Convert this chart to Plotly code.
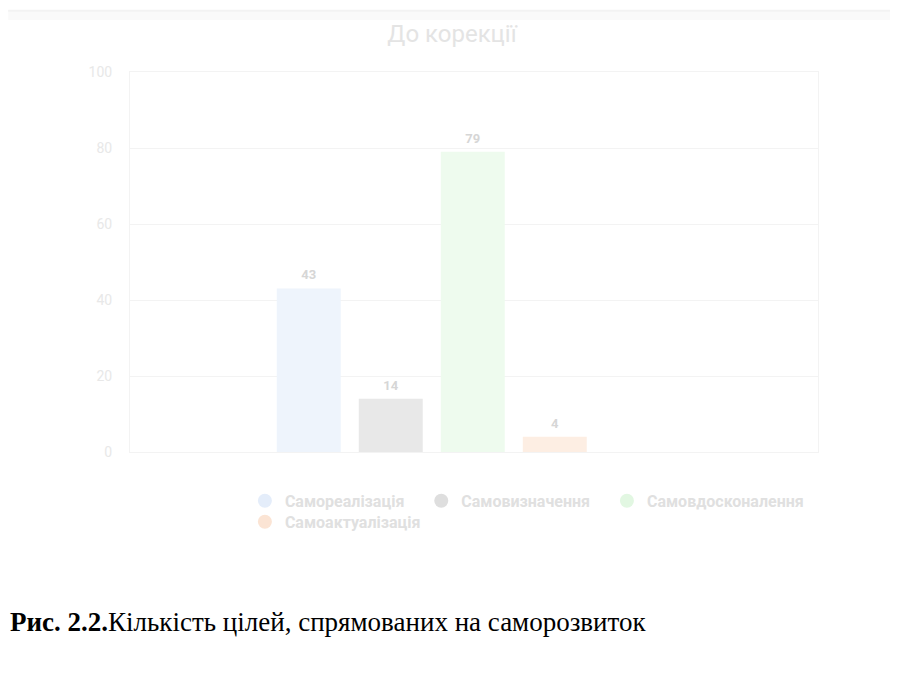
import plotly.graph_objects as go

categories = ["Самореалізація", "Самовизначення", "Самовдосконалення", "Самоактуалізація"]
values = [43, 14, 79, 4]
bar_colors = ["#eef4fc", "#e8e8e8", "#eefbee", "#fdeee3"]
legend_colors = ["#e4edfa", "#dedede", "#e2f7e2", "#fbe4d4"]
legend_rows = ["legend", "legend", "legend", "legend2"]
y_ticks = [0, 20, 40, 60, 80, 100]
title_text = "До корекції"
caption_bold = "Рис. 2.2."
caption_text = "Кількість цілей, спрямованих на саморозвиток"

fig = go.Figure()
for cat, val, col in zip(categories, values, bar_colors):
    fig.add_trace(go.Bar(
        x=[cat], y=[val], marker=dict(color=col, line=dict(width=0)),
        width=0.78, showlegend=False, hoverinfo="skip",
    ))
# value labels above the bars
fig.add_trace(go.Scatter(
    x=categories, y=values, mode="markers+text",
    marker=dict(size=8, opacity=0),
    text=[str(v) for v in values], textposition="top center",
    textfont=dict(family="Roboto", size=13, color="#d6d6d6", weight="bold"),
    cliponaxis=False, showlegend=False, hoverinfo="skip",
))
for cat, col, lg in zip(categories, legend_colors, legend_rows):
    fig.add_trace(go.Scatter(
        x=[None], y=[None], mode="markers", name=cat + "\u00a0\u00a0\u00a0",
        marker=dict(symbol="circle", size=14, color=col),
        showlegend=True, legend=lg,
    ))

legend_font = dict(family="Roboto", size=16, color="#e0e0e0", weight="bold")
fig.update_layout(
    width=890, height=667,
    paper_bgcolor="white", plot_bgcolor="white",
    margin=dict(l=122, r=80, t=64, b=223, autoexpand=False),
    barmode="overlay",
    title=dict(text=title_text, x=0.468, xref="paper", xanchor="center",
               y=1 - 26 / 667, yref="container", yanchor="middle",
               font=dict(family="Roboto", size=24, color="#e4e4e4")),
    xaxis=dict(type="category", categoryorder="array", categoryarray=categories,
               range=[-2.18, 6.21], showticklabels=False, showgrid=False,
               zeroline=False, showline=True, linecolor="#f3f3f3", mirror=True,
               automargin=False, fixedrange=True),
    yaxis=dict(range=[0, 100], tickvals=y_ticks, showgrid=True, gridcolor="#f3f3f3",
               zeroline=False, showline=True, linecolor="#f3f3f3", mirror=True,
               tickfont=dict(family="Roboto", size=14, color="#e8e8e8"),
               ticks="", ticklabelstandoff=14, automargin=False, fixedrange=True),
    legend=dict(orientation="h", x=0.167, xanchor="left", xref="paper",
                y=-0.084, yanchor="top", font=legend_font,
                itemsizing="trace", tracegroupgap=0, traceorder="normal"),
    legend2=dict(orientation="h", x=0.167, xanchor="left", xref="paper",
                 y=-0.139, yanchor="top", font=legend_font,
                 itemsizing="trace", tracegroupgap=0, traceorder="normal",
                 bgcolor="rgba(0,0,0,0)"),
    font=dict(family="Roboto"),
)

# faint band at the top of the card
fig.add_shape(type="rect", xref="paper", yref="paper", x0=-0.177, x1=1.116,
              y0=1.137, y1=1.163, fillcolor="#fafafa", line=dict(width=0), layer="below")
fig.add_shape(type="line", xref="paper", yref="paper", x0=-0.177, x1=1.116,
              y0=1.161, y1=1.161, line=dict(color="#f3f3f3", width=2))

fig.add_annotation(
    text=f"<b>{caption_bold}</b>{caption_text}",
    xref="paper", yref="paper", x=-0.1773, y=-0.447, xanchor="left", yanchor="middle",
    showarrow=False, align="left",
    font=dict(family="Liberation Serif", size=27, color="#000000"),
)

fig.write_html("out.html")
